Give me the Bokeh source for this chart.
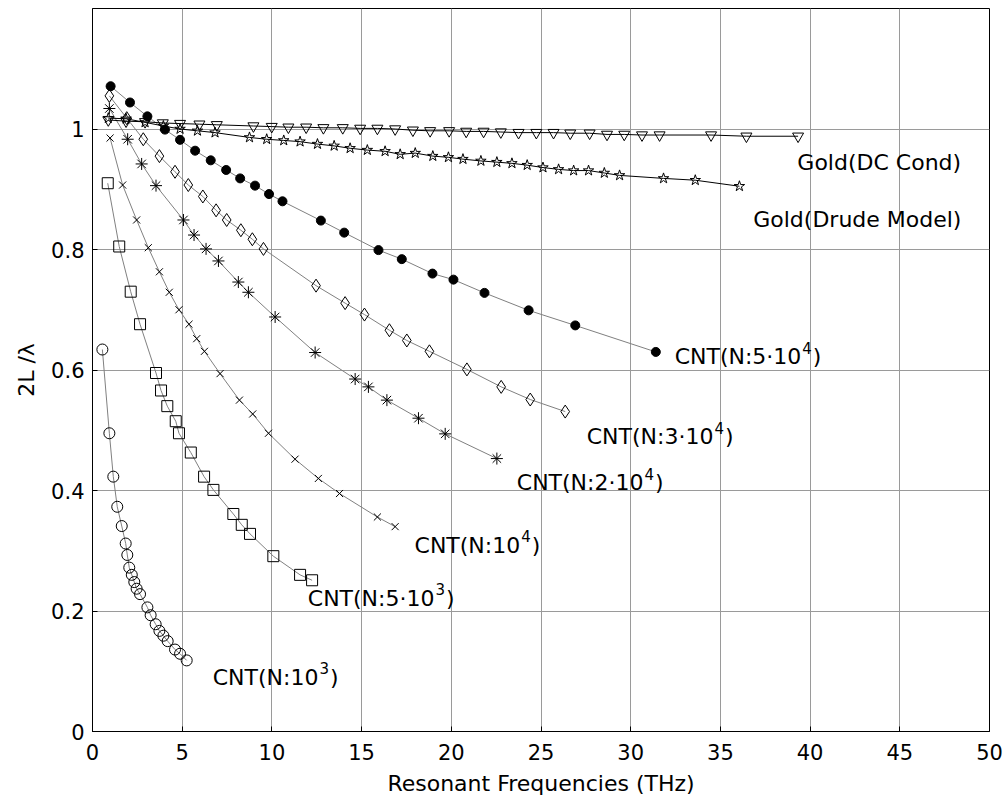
from bokeh.plotting import figure
from bokeh.models import Range1d, FixedTicker
from bokeh.core.properties import value
from bokeh.embed import file_html
from bokeh.resources import INLINE

# ---------------- data ----------------
cnt_1e3_f = [0.55, 0.94, 1.16, 1.38, 1.63, 1.85, 1.94, 2.05, 2.19, 2.33, 2.46, 2.65,
             3.06, 3.24, 3.52, 3.73, 3.95, 4.19, 4.60, 4.88, 5.25]
cnt_1e3_v = [0.634, 0.495, 0.423, 0.373, 0.341, 0.312, 0.293, 0.272, 0.260, 0.248, 0.237, 0.228,
             0.206, 0.193, 0.178, 0.167, 0.159, 0.150, 0.136, 0.129, 0.118]

cnt_5e3_f = [0.85, 1.49, 2.13, 2.65, 3.54, 3.82, 4.17, 4.64, 4.82, 5.48, 6.22, 6.74,
             7.85, 8.32, 8.78, 10.08, 11.57, 12.24]
cnt_5e3_v = [0.910, 0.805, 0.730, 0.676, 0.595, 0.566, 0.540, 0.515, 0.495, 0.463, 0.423, 0.401,
             0.361, 0.343, 0.328, 0.291, 0.260, 0.251]

cnt_1e4_f = [0.98, 1.68, 2.46, 3.11, 3.73, 4.28, 4.82, 5.38, 5.81, 6.24, 7.11, 8.19,
             8.93, 9.81, 11.29, 12.59, 13.77, 15.88, 16.87]
cnt_1e4_v = [0.985, 0.907, 0.849, 0.803, 0.763, 0.729, 0.700, 0.676, 0.652, 0.631, 0.594, 0.550,
             0.527, 0.495, 0.452, 0.420, 0.395, 0.356, 0.340]

cnt_2e4_f = [0.94, 1.96, 2.74, 3.54, 5.07, 5.66, 6.33, 7.02, 8.13, 8.69, 10.18, 12.41,
             14.64, 15.38, 16.41, 18.17, 19.66, 22.54]
cnt_2e4_v = [1.034, 0.983, 0.942, 0.906, 0.849, 0.824, 0.801, 0.781, 0.746, 0.729, 0.688, 0.629,
             0.585, 0.572, 0.550, 0.520, 0.494, 0.453]

cnt_3e4_f = [0.94, 1.91, 2.83, 3.73, 4.60, 5.34, 6.15, 6.89, 7.48, 8.27, 8.91, 9.53,
             12.46, 14.08, 15.16, 16.55, 17.52, 18.78, 20.87, 22.78, 24.40, 26.35]
cnt_3e4_v = [1.055, 1.018, 0.983, 0.955, 0.929, 0.907, 0.888, 0.865, 0.849, 0.832, 0.817, 0.801,
             0.740, 0.711, 0.692, 0.666, 0.649, 0.631, 0.601, 0.572, 0.551, 0.531]

cnt_5e4_f = [1.01, 2.09, 3.06, 4.04, 4.88, 5.72, 6.59, 7.45, 8.23, 9.06, 9.84, 10.59,
             12.73, 14.03, 15.94, 17.24, 18.95, 20.12, 21.85, 24.31, 26.91, 31.40]
cnt_5e4_v = [1.071, 1.044, 1.021, 0.999, 0.982, 0.964, 0.948, 0.932, 0.918, 0.906, 0.892, 0.880,
             0.848, 0.828, 0.799, 0.784, 0.760, 0.750, 0.728, 0.699, 0.674, 0.630]

gold_dc_f = [0.88, 1.87, 2.93, 3.92, 4.88, 5.96, 6.93, 8.97, 9.99, 10.92, 11.91, 12.87,
             13.95, 14.92, 15.88, 16.87, 17.86, 18.82, 19.88, 20.83, 21.80, 22.76, 23.75, 24.74,
             25.70, 26.63, 27.71, 28.68, 29.64, 30.63, 31.61, 34.48, 36.45, 39.33]
gold_dc_v = [1.015, 1.013, 1.012, 1.010, 1.009, 1.008, 1.007, 1.005, 1.004, 1.003, 1.003, 1.002,
             1.002, 1.001, 1.001, 1.000, 0.998, 0.997, 0.997, 0.996, 0.996, 0.995, 0.994, 0.994,
             0.994, 0.993, 0.993, 0.991, 0.991, 0.990, 0.990, 0.990, 0.988, 0.988]

gold_drude_f = [0.88, 1.87, 2.93, 3.95, 4.88, 5.85, 6.83, 8.75, 9.71, 10.66, 11.57, 12.54,
                13.47, 14.36, 15.32, 16.31, 17.15, 17.99, 18.97, 19.84, 20.65, 21.65, 22.54, 23.38,
                24.23, 25.11, 25.98, 26.82, 27.65, 28.53, 29.38, 31.83, 33.60, 36.06]
gold_drude_v = [1.018, 1.017, 1.011, 1.005, 1.000, 0.997, 0.994, 0.986, 0.983, 0.981, 0.979, 0.975,
                0.972, 0.968, 0.965, 0.963, 0.958, 0.960, 0.955, 0.953, 0.950, 0.947, 0.945, 0.943,
                0.940, 0.936, 0.933, 0.931, 0.931, 0.927, 0.923, 0.918, 0.915, 0.905]

x_ticks = [0, 5, 10, 15, 20, 25, 30, 35, 40, 45, 50]
y_ticks = [0, 0.2, 0.4, 0.6, 0.8, 1]
y_tick_labels = ["0", "0.2", "0.4", "0.6", "0.8", "1"]

FONT = "DejaVu Sans"
FS_TICK = 21     # px
FS = 22          # px
FS_EXP = 15      # px

p = figure(width=1008, height=803, output_backend="svg", toolbar_location=None,
           x_range=Range1d(0, 50), y_range=Range1d(0, 1.2),
           min_border_left=92, min_border_right=19, min_border_top=8, min_border_bottom=72,
           background_fill_color="white", border_fill_color="white")

p.outline_line_color = "black"
p.outline_line_width = 1

for ax in (p.xaxis[0], p.yaxis[0]):
    ax.major_tick_in = 5
    ax.major_tick_out = 0
    ax.minor_tick_line_color = None
    ax.axis_line_color = "black"
    ax.major_tick_line_color = "black"
    ax.major_label_text_font = FONT
    ax.major_label_text_font_size = f"{FS_TICK}px"
    ax.major_label_text_color = "black"
    ax.axis_label_text_font = FONT
    ax.axis_label_text_font_size = f"{FS}px"
    ax.axis_label_text_font_style = "normal"
    ax.axis_label_text_color = "black"

p.xaxis[0].ticker = FixedTicker(ticks=x_ticks)
p.yaxis[0].ticker = FixedTicker(ticks=y_ticks)
p.yaxis[0].major_label_overrides = {t: s for t, s in zip(y_ticks, y_tick_labels)}
p.xaxis[0].axis_label = "Resonant Frequencies (THz)"
p.yaxis[0].axis_label = "2L /\u03bb"
p.xaxis[0].major_label_standoff = 12
p.yaxis[0].major_label_standoff = 8
p.xaxis[0].axis_label_standoff = 8
p.yaxis[0].axis_label_standoff = 9

p.xgrid.ticker = FixedTicker(ticks=x_ticks)
p.ygrid.ticker = FixedTicker(ticks=y_ticks)
for g in (p.xgrid[0], p.ygrid[0]):
    g.grid_line_color = "#9a9a9a"
    g.grid_line_width = 1

GRAY = "#808080"

series = [
    (cnt_1e3_f, cnt_1e3_v, "circle", 11, None, GRAY),
    (cnt_5e3_f, cnt_5e3_v, "square", 11, None, GRAY),
    (cnt_1e4_f, cnt_1e4_v, "x", 10, None, GRAY),
    (cnt_2e4_f, cnt_2e4_v, "asterisk", 12, None, GRAY),
    (cnt_3e4_f, cnt_3e4_v, "diamond", 13, None, GRAY),
    (cnt_5e4_f, cnt_5e4_v, "circle", 9, "black", GRAY),
    (gold_dc_f, gold_dc_v, "inverted_triangle", 11, None, "black"),
    (gold_drude_f, gold_drude_v, "star", 11, None, "black"),
]

for xs, ys, marker, size, fill, lcol in series:
    p.line(xs, ys, line_color=lcol, line_width=1)
    p.scatter(xs, ys, marker=marker, size=size, line_color="black", line_width=1,
              fill_color=fill)

# ---------------- annotations ----------------
W = {"C": .698, "N": .748, "T": .611, "(": .390, ":": .337, "\u00b7": .318,
     "0": .636, "1": .636, "2": .636, "3": .636, "4": .636, "5": .636, ")": .390}


def width(s, fs):
    return sum(W.get(c, 0.6) for c in s) * fs


labels = [
    (39.29, 0.945, "Gold(DC Cond)", "", ""),
    (36.83, 0.850, "Gold(Drude Model)", "", ""),
    (32.45, 0.622, "CNT(N:5\u00b710", "4", ")"),
    (27.55, 0.489, "CNT(N:3\u00b710", "4", ")"),
    (23.65, 0.413, "CNT(N:2\u00b710", "4", ")"),
    (17.95, 0.309, "CNT(N:10", "4", ")"),
    (12.00, 0.221, "CNT(N:5\u00b710", "3", ")"),
    (6.70, 0.090, "CNT(N:10", "3", ")"),
]

for lx, ly, main, exp, tail in labels:
    p.text([lx], [ly], text=[main], text_font=value(FONT), text_font_size=f"{FS}px",
           text_align="left", text_baseline="middle", text_color="black")
    if exp:
        w = width(main, FS)
        p.text([lx], [ly], text=[exp], x_offset=w + 1, y_offset=-9, text_font=value(FONT),
               text_font_size=f"{FS_EXP}px", text_align="left", text_baseline="middle",
               text_color="black")
        w2 = w + 1 + width(exp, FS_EXP) + 1
        p.text([lx], [ly], text=[tail], x_offset=w2, text_font=value(FONT),
               text_font_size=f"{FS}px", text_align="left", text_baseline="middle",
               text_color="black")

open("out.html", "w").write(file_html(p, INLINE))
